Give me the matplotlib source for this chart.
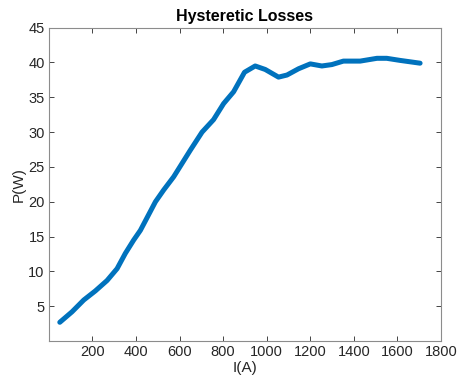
import matplotlib

matplotlib.use("Agg")
import matplotlib.pyplot as plt  # noqa: E402

plt.rcParams["font.family"] = ["Liberation Sans", "DejaVu Sans"]

# corriente (A) y pérdidas por histéresis (W)
current = [50, 106, 160, 213, 267, 313, 351, 389, 420, 489, 527, 573, 649,
           703, 756, 802, 848, 898, 947, 993, 1054, 1093, 1146, 1200, 1253,
           1299, 1352, 1429, 1506, 1551, 1612, 1704]
power = [2.7, 4.2, 5.9, 7.2, 8.7, 10.4, 12.6, 14.5, 15.9, 20.0, 21.7, 23.6,
         27.4, 30.0, 31.8, 34.1, 35.8, 38.6, 39.5, 39.0, 37.9, 38.2, 39.1,
         39.8, 39.5, 39.7, 40.2, 40.2, 40.6, 40.6, 40.3, 39.9]

xticks = [200, 400, 600, 800, 1000, 1200, 1400, 1600, 1800]
yticks = [5, 10, 15, 20, 25, 30, 35, 40, 45]

fig = plt.figure(figsize=(4.57, 3.79), dpi=100)
ax = fig.add_axes([0.107, 0.100, 0.858, 0.827])
ax.plot(current, power, color="#0072BD", lw=3.6, solid_capstyle="round")

ax.set_xlim(0, 1800)
ax.set_ylim(0, 45)
ax.set_xticks(xticks)
ax.set_yticks(yticks)
ax.tick_params(direction="in", length=3.5, width=0.6, colors="#262626",
               labelsize=10.5, top=True, right=True, pad=3)
for sp in ax.spines.values():
    sp.set_color("#8c8c8c")
    sp.set_linewidth(0.8)

ax.set_xlabel("I(A)", fontsize=11, color="#262626", labelpad=1)
ax.set_ylabel("P(W)", fontsize=11, color="#262626", labelpad=2)
ax.set_title("Hysteretic Losses", fontsize=11.5, fontweight="bold", pad=5)

fig.savefig("out.png", dpi=100)
